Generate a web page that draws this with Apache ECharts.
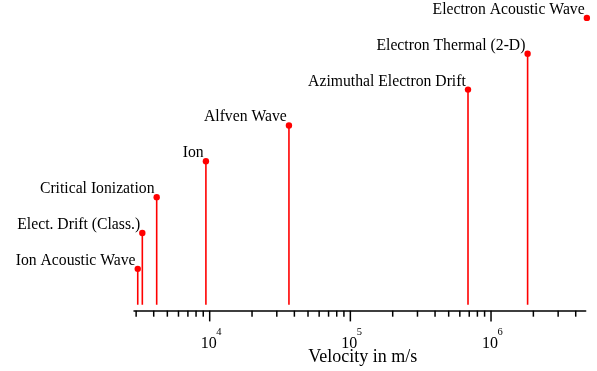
<!DOCTYPE html>
<html>
<head>
<meta charset="utf-8">
<script src="https://cdn.jsdelivr.net/npm/echarts@6/dist/echarts.min.js"></script>
<style>
  html, body { margin: 0; padding: 0; background: #ffffff; }
  #chart { width: 597px; height: 371px; }
</style>
</head>
<body>
<div id="chart"></div>
<script>
// ---- data ----
const categories = ['Ion Acoustic Wave', 'Elect. Drift (Class.)', 'Critical Ionization', 'Ion',
  'Alfven Wave', 'Azimuthal Electron Drift', 'Electron Thermal (2-D)', 'Electron Acoustic Wave'];
const velocities = [3080, 3320, 4200, 9400, 36600, 686000, 1820000, 4800000];
const stemLevels = [1, 2, 3, 4, 5, 6, 7, 8];
const minorTickValues = [3000, 4000, 5000, 6000, 7000, 8000, 9000,
  20000, 30000, 40000, 50000, 60000, 70000, 80000, 90000,
  200000, 300000, 400000, 500000, 600000, 700000, 800000, 900000,
  2000000, 3000000, 4000000];
const majorTickValues = [10000, 100000, 1000000];
const majorTickExponents = ['4', '5', '6'];
const axisTitle = 'Velocity in m/s';

const FONT = '"Liberation Serif", "Times New Roman", serif';
const Y_MIN = -0.1667;
const Y_MAX = 8.5;

const stemData = velocities.map((v, i) => [v, stemLevels[i], categories[i]]);
const tickData = minorTickValues.map(v => [v, Y_MIN, 0]).concat(majorTickValues.map((v, i) => [v, Y_MIN, 1, majorTickExponents[i]]));

const chart = echarts.init(document.getElementById('chart'), null, { renderer: 'canvas' });

const option = {
  animation: false,
  backgroundColor: '#ffffff',
  grid: { left: 134, right: 11.3, top: 0, bottom: 59, containLabel: false },
  xAxis: {
    type: 'log',
    logBase: 10,
    min: 2897,
    max: 4710000,
    axisLine: { show: true, onZero: false, lineStyle: { color: '#000', width: 1.5 } },
    axisTick: { show: false },
    axisLabel: { show: false },
    splitLine: { show: false },
    name: axisTitle,
    nameLocation: 'middle',
    nameGap: 37.3,
    nameTextStyle: { fontFamily: FONT, fontSize: 18, color: '#000', padding: [0, 0, 0, 6] }
  },
  yAxis: { type: 'value', min: Y_MIN, max: Y_MAX, show: false },
  series: [
    {
      // stems (clipped to plot area)
      type: 'custom',
      clip: true,
      data: stemData,
      encode: { x: 0, y: 1 },
      renderItem: function (params, api) {
        const top = api.coord([api.value(0), api.value(1)]);
        const base = api.coord([api.value(0), 0]);
        return {
          type: 'line',
          shape: { x1: top[0], y1: base[1], x2: top[0], y2: top[1] },
          style: { stroke: '#ff0000', lineWidth: 1.6 }
        };
      }
    },
    {
      // markers and labels
      type: 'custom',
      clip: false,
      data: stemData,
      encode: { x: 0, y: 1 },
      renderItem: function (params, api) {
        const p = api.coord([api.value(0), api.value(1)]);
        const name = categories[params.dataIndex];
        return {
          type: 'group',
          children: [
            { type: 'circle', shape: { cx: p[0], cy: p[1], r: 3.2 }, style: { fill: '#ff0000' } },
            {
              type: 'text',
              style: {
                x: p[0] - 2.2, y: p[1] - 8.1, text: name,
                textAlign: 'right', textVerticalAlign: 'middle',
                font: '15.7px ' + FONT, fill: '#000'
              }
            }
          ]
        };
      }
    },
    {
      // axis ticks and labels
      type: 'custom',
      clip: false,
      data: tickData,
      encode: { x: 0, y: 1 },
      renderItem: function (params, api) {
        const p = api.coord([api.value(0), api.value(1)]);
        const axisY = p[1];
        const isMajor = api.value(2) === 1;
        const children = [{
          type: 'line',
          shape: { x1: p[0], y1: axisY, x2: p[0], y2: axisY + (isMajor ? 10.7 : 6) },
          style: { stroke: '#000', lineWidth: 1.5 }
        }];
        if (isMajor) {
          const exp = tickData[params.dataIndex][3];
          children.push({
            type: 'text',
            style: { x: p[0] - 1, y: axisY + 33.5, text: '10', textAlign: 'center', textVerticalAlign: 'middle', font: '16px ' + FONT, fill: '#000' }
          });
          children.push({
            type: 'text',
            style: { x: p[0] + 6.5, y: axisY + 22, text: exp, textAlign: 'left', textVerticalAlign: 'middle', font: '10.5px ' + FONT, fill: '#000' }
          });
        }
        return { type: 'group', children: children };
      }
    }
  ]
};

chart.setOption(option);
</script>
</body>
</html>
